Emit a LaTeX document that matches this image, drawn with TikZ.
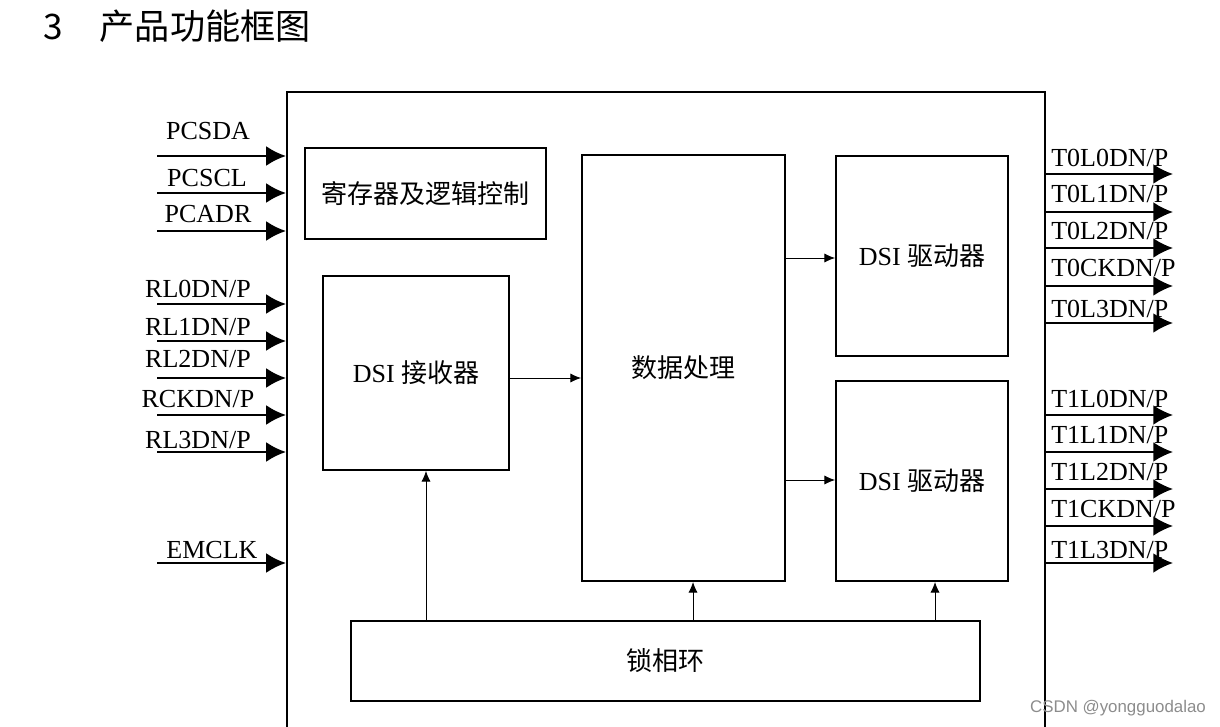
\documentclass[tikz,border=0pt]{standalone}
\usepackage{fontspec}
\setmainfont{Liberation Serif}
\newfontfamily\cjk{Noto Sans CJK SC}
\newfontfamily\wmfont{Liberation Sans}
\usetikzlibrary{arrows.meta,positioning}
\tikzset{
  blk/.style={draw, line width=1.4pt, inner sep=0pt, align=center, font=\fontsize{18.5}{22}\selectfont},
  pinlbl/.style={inner sep=0pt, anchor=base, font=\fontsize{18.5}{22}\selectfont},
  bigarrow/.style={line width=1.4pt, -{Latex[length=14pt,width=14pt]}},
  thinarrow/.style={line width=0.6pt, -{Latex[length=7.5pt,width=6.5pt]}}
}
\begin{document}
\begin{tikzpicture}[x=0.025cm, y=-0.025cm]
  \useasboundingbox (0,0) rectangle (1220,727);

  %% title
  \node[anchor=west, inner sep=0pt, font=\cjk\fontsize{25}{28}\selectfont] (title) at (43,26) {3\hspace{1.05em}产品功能框图};

  %% chip outline (runs past the bottom edge)
  \node[draw, line width=1.4pt, minimum width=18.95cm, minimum height=16.4cm] (chip) at (666,420) {};

  %% inner blocks
  \node[blk, minimum width=6.025cm, minimum height=2.275cm] (reg)  at (425.5,193.5) {\cjk 寄存器及逻辑控制};
  \node[blk, minimum width=4.65cm,  minimum height=4.85cm]  (rx)   at (416,373)     {DSI {\cjk 接收器}};
  \node[blk, minimum width=5.075cm, minimum height=10.65cm] (proc) at (683.5,368)   {\cjk 数据处理};
  \node[blk, minimum width=4.3cm,   minimum height=5cm]     (drv0) at (922,256)     {DSI {\cjk 驱动器}};
  \node[blk, minimum width=4.3cm,   minimum height=5cm]     (drv1) at (922,481)     {DSI {\cjk 驱动器}};
  \node[blk, minimum width=15.725cm, minimum height=2cm]    (pll)  at (665.5,661)   {\cjk 锁相环};

  %% internal data paths
  \draw[thinarrow] (rx.east |- 0,378)   -- (proc.west |- 0,378);
  \draw[thinarrow] (proc.east |- 0,258) -- (drv0.west |- 0,258);
  \draw[thinarrow] (proc.east |- 0,480) -- (drv1.west |- 0,480);
  \draw[thinarrow] (426,0 |- pll.north) -- (426,0 |- rx.south);
  \draw[thinarrow] (693,0 |- pll.north) -- (693,0 |- proc.south);
  \draw[thinarrow] (935,0 |- pll.north) -- (935,0 |- drv1.south);

  %% input pins
  \foreach \y/\lx/\by/\lab in {156/208/140/PCSDA, 193/207/187/PCSCL, 231/208/223/PCADR,
                              304/198/298/RL0DN\slash P, 341/198/335/RL1DN\slash P, 378/198/367/RL2DN\slash P,
                              415/198/407/RCKDN\slash P, 452/198/448/RL3DN\slash P, 563/212/558/EMCLK} {
    \draw[bigarrow] (157,\y) -- (chip.west |- 0,\y);
    \node[pinlbl] (in-\y) at (\lx,\by) {\lab};
  }

  %% output pins
  \foreach \y/\by/\lab in {174/167/T0L0DN\slash P, 212/203/T0L1DN\slash P, 248/240/T0L2DN\slash P,
                          286/277/T0CKDN\slash P, 323/317/T0L3DN\slash P,
                          415/407/T1L0DN\slash P, 452/443/T1L1DN\slash P, 489/480/T1L2DN\slash P,
                          526/517/T1CKDN\slash P, 563/558/T1L3DN\slash P} {
    \draw[bigarrow] (chip.east |- 0,\y) -- (1173,\y);
    \node[pinlbl, anchor=base west] (out-\y) at (1051,\by) {\lab};
  }

  %% watermark
  \node[inner sep=0pt, text=black!45, font=\wmfont\fontsize{12}{14}\selectfont] (wm) at (1118,708) {CSDN @yongguodalao};
\end{tikzpicture}
\end{document}
